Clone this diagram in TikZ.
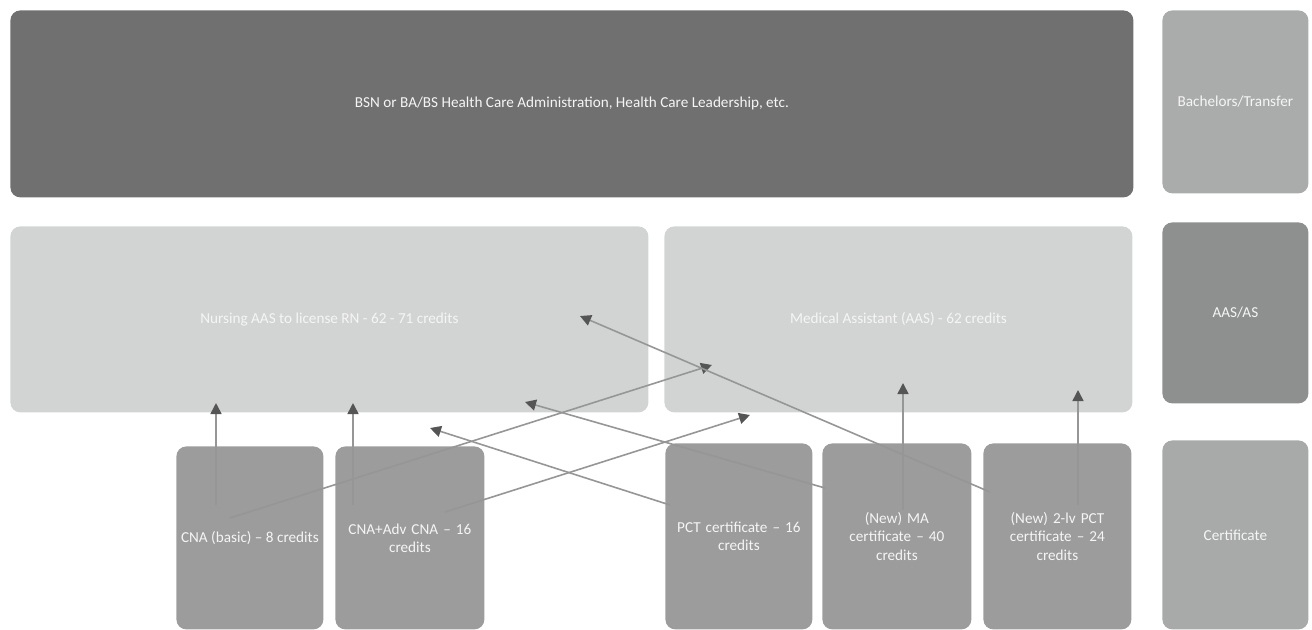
\documentclass[tikz,border=0pt]{standalone}
\usepackage{fontspec}
\setmainfont{Carlito}
\usetikzlibrary{arrows.meta}
\definecolor{topc}{RGB}{112,112,112}
\definecolor{bachc}{RGB}{170,172,172}
\definecolor{aasc}{RGB}{142,143,143}
\definecolor{lightc}{RGB}{210,212,212}
\definecolor{botc}{RGB}{156,156,156}
\definecolor{certc}{RGB}{168,170,170}
\definecolor{linec}{RGB}{150,150,150}
\definecolor{tipc}{RGB}{85,85,85}
\definecolor{txtc}{RGB}{245,245,245}
\tikzset{
  box/.style={anchor=north west, rounded corners=5pt, inner sep=0pt, align=center,
    text=txtc, font=\fontsize{7.6}{9.1}\selectfont},
  conn/.style={draw=linec, line width=0.8pt,
    -{Triangle[length=5.5pt,width=5.5pt,color=tipc]}},
}
\begin{document}
\begin{tikzpicture}[x=0.5pt,y=-0.5pt]
\useasboundingbox (0,0) rectangle (1312,629);
\node[box, fill=topc, minimum width=561.5pt, minimum height=93.5pt] (top) at (10,10)
  {BSN or BA/BS Health Care Administration, Health Care Leadership, etc.};
\node[box, fill=bachc, minimum width=73pt, minimum height=91.5pt] (bach) at (1162,10)
  {Bachelors/Transfer};
\node[box, fill=lightc, minimum width=319pt, minimum height=93pt] (nurs) at (10,226)
  {Nursing AAS to license RN - 62 - 71 credits};
\node[box, fill=lightc, minimum width=234pt, minimum height=93pt] (ma) at (664,226)
  {Medical Assistant (AAS) - 62 credits};
\node[box, fill=aasc, minimum width=73pt, minimum height=90.5pt] (aas) at (1162,222)
  {AAS/AS};
\node[box, fill=botc, minimum width=73.5pt, minimum height=91.5pt] (cna) at (176,446)
  {CNA (basic) – 8 credits};
\node[box, fill=botc, minimum width=74.5pt, minimum height=91.5pt, text width=70pt] (cnaadv) at (335,446)
  {CNA+Adv CNA – 16\\credits};
\node[box, fill=botc, minimum width=73.5pt, minimum height=93pt, text width=70pt] (pct) at (665,443)
  {PCT certificate – 16\\credits};
\node[box, fill=botc, minimum width=74.5pt, minimum height=93pt, text width=70pt] (newma) at (822,443)
  {(New) MA\\certificate – 40\\credits};
\node[box, fill=botc, minimum width=74pt, minimum height=93pt, text width=70pt] (pct2) at (983,443)
  {(New) 2-lv PCT\\certificate – 24\\credits};
\node[box, fill=certc, minimum width=73pt, minimum height=94.5pt] (cert) at (1162,440)
  {Certificate};
% connector end points
\coordinate (s1) at (216,505); \coordinate (e1) at (216,403);
\coordinate (s2) at (353,505); \coordinate (e2) at (353,403);
\coordinate (s3) at (230,518); \coordinate (e3) at (712,365);
\coordinate (s4) at (445,512); \coordinate (e4) at (750,415);
\coordinate (s5) at (670,505); \coordinate (e5) at (430,428);
\coordinate (s6) at (825,488); \coordinate (e6) at (525,402);
\coordinate (s7) at (990,492); \coordinate (e7) at (580,316);
\coordinate (s8) at (903,510); \coordinate (e8) at (903,383);
\coordinate (s9) at (1078,505); \coordinate (e9) at (1078,390);
\foreach \i in {1,...,9} { \draw[conn] (s\i) -- (e\i); }
\end{tikzpicture}
\end{document}
